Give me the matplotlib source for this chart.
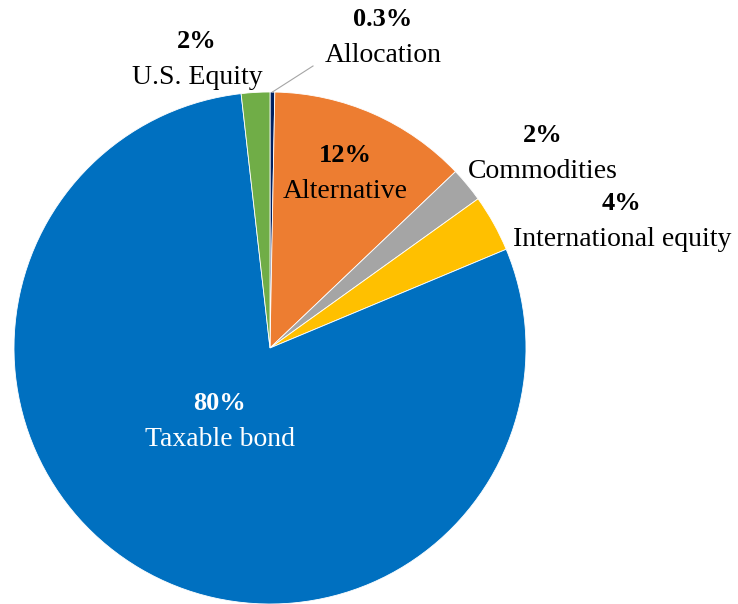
import numpy as np
import matplotlib as mpl
import matplotlib.pyplot as plt

mpl.rcParams.update({
    "font.family": "serif",
    "font.serif": ["Liberation Serif", "DejaVu Serif"],
})

# ===== DATA =====
categories = ["Allocation", "Alternative", "Commodities", "International equity",
              "Taxable bond", "U.S. Equity"]
values = [0.3, 12.6, 2.2, 3.6, 79.5, 1.8]
pct_labels = ["0.3%", "12%", "2%", "4%", "80%", "2%"]
colors = ["#002060", "#ED7D31", "#A5A5A5", "#FFC000", "#0070C0", "#70AD47"]

# label anchor positions in pixel coordinates (x, y from top)
label_pos = {
    "Allocation": (383, 38),
    "Alternative": (345, 173),
    "Commodities": (543, 154),
    "International equity": (622, 221),
    "Taxable bond": (220, 422),
    "U.S. Equity": (197, 60),
}
W, H = 738, 604
CX, CY, R = 270, 348, 256

fig = plt.figure(figsize=(W / 100, H / 100), dpi=100)
ax = fig.add_axes([0, 0, 1, 1])

wedges, _ = ax.pie(values, colors=colors, startangle=90, counterclock=False,
                   center=(CX, H - CY), radius=R, frame=True,
                   wedgeprops=dict(linewidth=0.6, edgecolor="white"))
ax.set_xlim(0, W)
ax.set_ylim(0, H)
ax.set_aspect("equal")
ax.axis("off")

for cat, pct in zip(categories, pct_labels):
    x, y = label_pos[cat]
    col = "white" if cat == "Taxable bond" else "black"
    ax.text(x, H - y + 18, pct, ha="center", va="center", fontsize=19,
            fontweight="bold", color=col)
    ax.text(x, H - y - 18, cat, ha="center", va="center", fontsize=20, color=col)

# leader line for the Allocation slice
w = wedges[0]
mid = np.deg2rad((w.theta1 + w.theta2) / 2)
x0 = CX + R * np.cos(mid)
y0 = (H - CY) + R * np.sin(mid)
ax.plot([x0, 313], [y0, H - 66], color="#A5A5A5", lw=0.8)

fig.savefig("out.png", dpi=100)
